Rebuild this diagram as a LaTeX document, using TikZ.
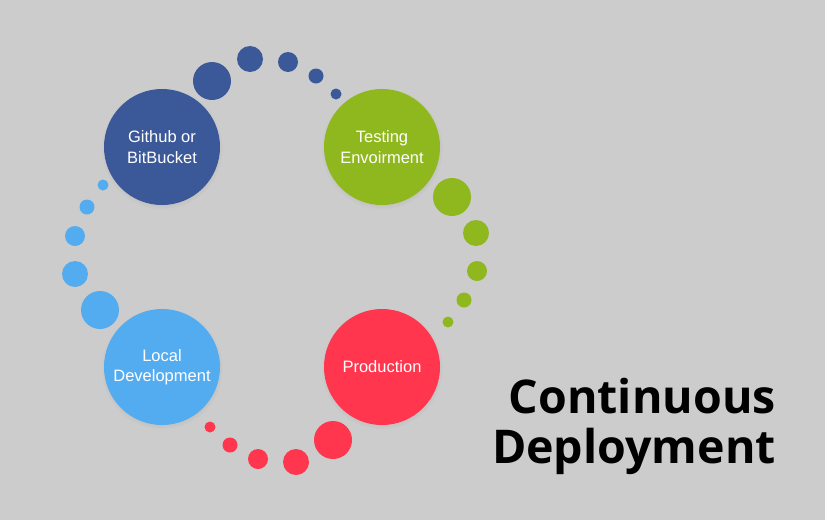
\documentclass[tikz,border=0pt]{standalone}
\usepackage{fontspec}
\setmainfont{Liberation Sans}
\newfontfamily\titlefont{Open Sans}
\usetikzlibrary{positioning, shadows}
\definecolor{PageGray}{RGB}{204,204,204}
\definecolor{RepoBlue}{RGB}{59,89,152}
\definecolor{TestGreen}{RGB}{143,183,30}
\definecolor{ProdRed}{RGB}{255,54,77}
\definecolor{LocalBlue}{RGB}{84,172,240}

\begin{document}
\begin{tikzpicture}[
  x=1pt, y=-1pt,
  stage/.style={circle, minimum size=116pt, inner sep=0pt, align=center,
                text=white, font=\fontsize{16.5}{20.5}\selectfont,
                circular drop shadow={shadow xshift=0pt, shadow yshift=-1.5pt,
                                      shadow scale=1.05, opacity=0.22}},
  title/.style={align=right, anchor=north east, inner sep=0pt,
                font=\titlefont\bfseries\fontsize{46.5}{50}\selectfont}
]

\fill[PageGray] (0,0) rectangle (825,520);
\useasboundingbox (0,0) rectangle (825,520);

% trails of dots, large to small
\foreach \x/\y/\r in {212/81/19, 250/59/13, 288/62/10, 316/76/7.5, 336/94/5.5}
  \fill[RepoBlue] (\x,\y) circle (\r);
\foreach \x/\y/\r in {452/197/19, 476/233/13, 477/271/10, 464/300/7.5, 448/322/5.5}
  \fill[TestGreen] (\x,\y) circle (\r);
\foreach \x/\y/\r in {333/440/19, 296/462/13, 258/459/10, 230/445/7.5, 210/427/5.5}
  \fill[ProdRed] (\x,\y) circle (\r);
\foreach \x/\y/\r in {100/310/19, 75/274/13, 75/236/10, 87/207/7.5, 103/185/5.5}
  \fill[LocalBlue] (\x,\y) circle (\r);

% the four stages
\node[stage, fill=RepoBlue]  (repo)  at (162,147) {Github or\\BitBucket};
\node[stage, fill=TestGreen] (test)  at (382,147) {Testing\\Envoirment};
\node[stage, fill=ProdRed]   (prod)  at (382,367) {Production};
\node[stage, fill=LocalBlue] (local) at (162,367) {Local\\Development};

\node[title] (heading) at (776,378) {Continuous\\Deployment};

\end{tikzpicture}
\end{document}
